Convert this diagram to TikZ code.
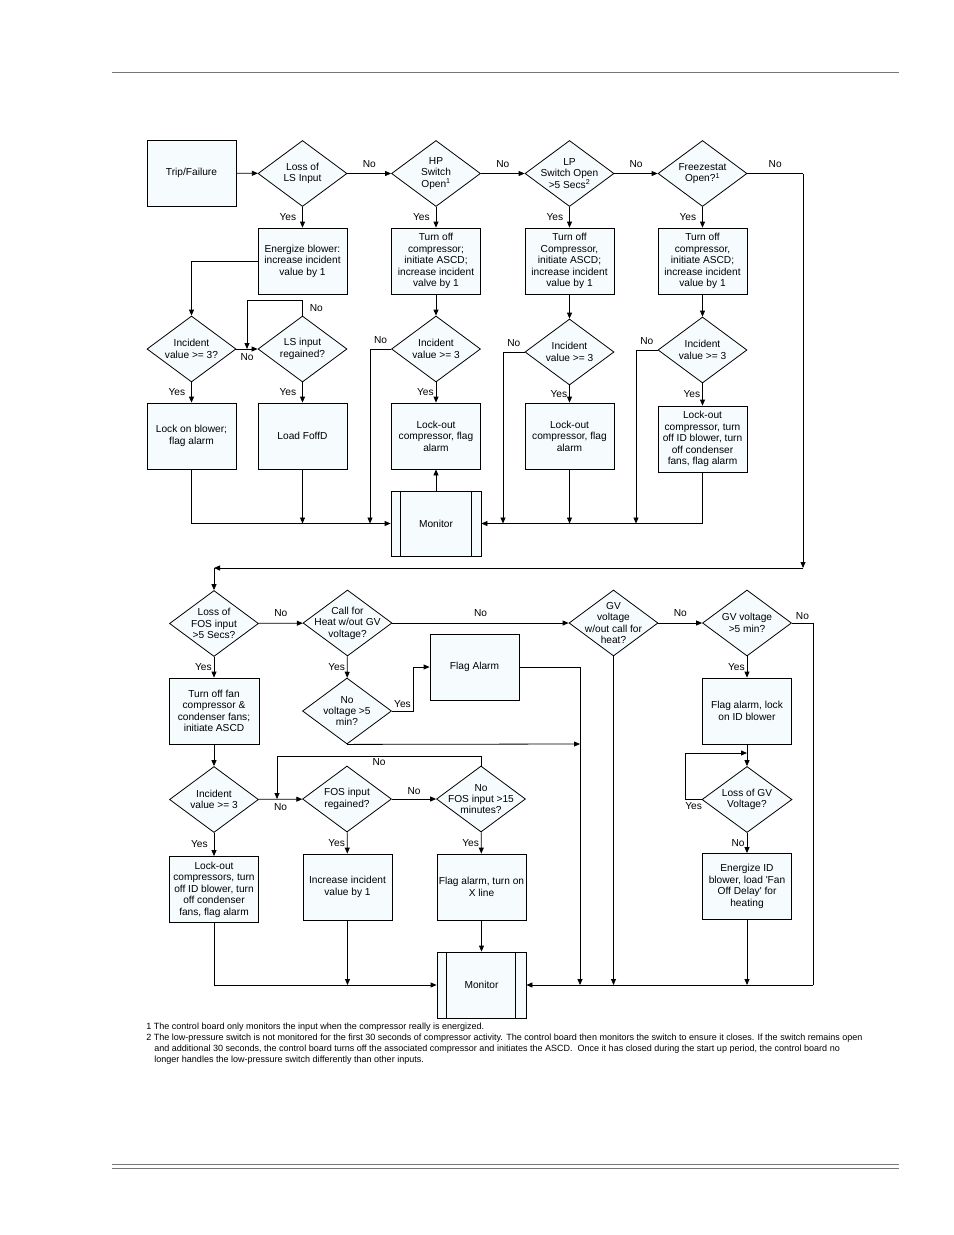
\documentclass[tikz,border=0pt]{standalone}
\usepackage{fontspec}
\setmainfont{Liberation Sans}[Ligatures=TeXOff]
\usetikzlibrary{shapes.geometric, arrows.meta}
\definecolor{boxfill}{HTML}{F6FBFD}
\definecolor{rulegray}{HTML}{777777}
\newcommand{\nodefont}{\fontsize{10.2}{11.5}\selectfont}
\newcommand{\notefont}{\fontsize{9.05}{10.7}\selectfont}

\begin{document}
\begin{tikzpicture}[x=1bp, y=-1bp, line width=0.8bp,
	box/.style={draw, fill=boxfill, minimum width=89bp, minimum height=66bp, inner sep=1bp, align=center, font=\nodefont},
	decision/.style={diamond, draw, fill=boxfill, minimum width=89bp, minimum height=66bp, inner sep=0pt},
	dtext/.style={label={[align=center, font=\nodefont, inner sep=0pt]center:#1}},
	lbl/.style={font=\nodefont, inner sep=1bp},
	arr/.style={-{Triangle[length=6bp, width=5bp]}}]
	\useasboundingbox (0,0) rectangle (954,1235);

	% page rules
	\draw[rulegray, line width=1bp] (112,72) -- (899,72);
	\draw[rulegray, line width=1bp] (112,1164) -- (899,1164) (112,1168) -- (899,1168);

	% upper half
	\node[box] (trip) at (191.5,173) {Trip/Failure};
	\node[decision, dtext={Loss of\\LS Input}] (lsloss) at (302.5,173.5) {};
	\node[decision, dtext={HP\\Switch\\Open\textsuperscript{1}}] (hpopen) at (436,173.5) {};
	\node[decision, dtext={LP\\Switch Open\\>5 Secs\textsuperscript{2}}] (lpopen) at (569.5,173.5) {};
	\node[decision, dtext={Freezestat\\Open?\textsuperscript{1}}] (frzopen) at (702.5,173.5) {};

	\node[box] (energize) at (302.5,261) {Energize blower:\\increase incident\\value by 1};
	\node[box] (hpoff) at (436,261) {Turn off\\compressor;\\initiate ASCD;\\increase incident\\valve by 1};
	\node[box] (lpoff) at (569.5,261) {Turn off\\Compressor,\\initiate ASCD;\\increase incident\\value by 1};
	\node[box] (frzoff) at (702.5,261) {Turn off\\compressor,\\initiate ASCD;\\increase incident\\value by 1};

	\node[decision, dtext={Incident\\value >= 3?}] (inc1) at (191.5,349) {};
	\node[decision, dtext={LS input\\regained?}] (lsregain) at (302.5,349) {};
	\node[decision, dtext={Incident\\value >= 3}] (hpinc) at (436,349) {};
	\node[decision, dtext={Incident\\value >= 3}] (lpinc) at (569.5,352) {};
	\node[decision, dtext={Incident\\value >= 3}] (frzinc) at (702.5,350) {};

	\node[box] (lockblow) at (191.5,436) {Lock on blower;\\flag alarm};
	\node[box] (loadfoff) at (302.5,436) {Load FoffD};
	\node[box] (hplock) at (436,436) {Lock-out\\compressor, flag\\alarm};
	\node[box] (lplock) at (569.5,436) {Lock-out\\compressor, flag\\alarm};
	\node[box] (frzlock) at (702.5,439) {Lock-out\\compressor, turn\\off ID blower, turn\\off condenser\\fans, flag alarm};

	\node[box, minimum width=90bp, minimum height=65bp] (montop) at (436,523.5) {Monitor};
	\draw ([xshift=10bp]montop.north west) -- ([xshift=10bp]montop.south west);
	\draw ([xshift=-10bp]montop.north east) -- ([xshift=-10bp]montop.south east);

	\coordinate (frzc) at (803,173.5);
	\coordinate (loopc) at (803,568);
	\coordinate (leftc) at (214,568);
	\coordinate (lsjoin) at (247,349);
	\coordinate (foffjoin) at (302.5,523.5);
	\coordinate (hpjoin) at (370,523.5);
	\coordinate (lpjoin) at (503,523.5);
	\coordinate (lplockj) at (569.5,523.5);
	\coordinate (frzjoin) at (636,523.5);

	\draw[arr] (trip) -- (lsloss);
	\draw[arr] (lsloss) -- node[lbl, above=5bp] {No} (hpopen);
	\draw[arr] (hpopen) -- node[lbl, above=5bp] {No} (lpopen);
	\draw[arr] (lpopen) -- node[lbl, above=5bp] {No} (frzopen);
	\draw (frzopen.east) -- node[lbl, above=5bp] {No} (frzc);
	\draw[arr] (frzc) -- (loopc);
	\draw[arr] (loopc) -- (leftc);

	\draw[arr] (lsloss) -- node[lbl, left=5bp] {Yes} (energize);
	\draw[arr] (hpopen) -- node[lbl, left=5bp] {Yes} (hpoff);
	\draw[arr] (lpopen) -- node[lbl, left=5bp] {Yes} (lpoff);
	\draw[arr] (frzopen) -- node[lbl, left=5bp] {Yes} (frzoff);

	\draw[arr] (energize.west) -| (inc1.north);
	\draw[arr] (hpoff) -- (hpinc);
	\draw[arr] (lpoff) -- (lpinc);
	\draw[arr] (frzoff) -- (frzinc);

	\draw[arr] (inc1) -- node[lbl, below=3bp] {No} (lsregain);
	\draw[arr] (lsregain.north) -- node[lbl, right=6bp] {No} ++(0,-15) -| (lsjoin);
	\draw[arr] (inc1) -- node[lbl, left=5bp] {Yes} (lockblow);
	\draw[arr] (lsregain) -- node[lbl, left=5bp] {Yes} (loadfoff);
	\draw[arr] (hpinc) -- node[lbl, left=1bp] {Yes} (hplock);
	\draw[arr] (lpinc) -- node[lbl, left=1bp] {Yes} (lplock);
	\draw[arr] (frzinc) -- node[lbl, left=1bp] {Yes} (frzlock);

	\draw[arr] (hpinc.west) -| node[lbl, pos=0.25, above=4bp] {No} (hpjoin);
	\draw[arr] (lpinc.west) -| node[lbl, pos=0.25, above=4bp] {No} (lpjoin);
	\draw[arr] (frzinc.west) -| node[lbl, pos=0.25, above=4bp] {No} (frzjoin);

	\draw[arr] (lockblow.south) |- (montop.west);
	\draw[arr] (loadfoff) -- (foffjoin);
	\draw[arr] (montop) -- (hplock);
	\draw[arr] (lplock) -- (lplockj);
	\draw[arr] (frzlock.south) |- (montop.east);

	% lower half
	\node[decision, dtext={Loss of\\FOS input\\>5 Secs?}] (fosloss) at (214,623.5) {};
	\node[decision, dtext={Call for\\Heat w/out GV\\voltage?}] (callheat) at (347.5,623) {};
	\node[decision, dtext={GV\\voltage\\w/out call for\\heat?}] (gvnocall) at (613.5,623) {};
	\node[decision, dtext={GV voltage\\>5 min?}] (gvlong) at (747,623) {};

	\node[box, minimum width=90bp] (fanoff) at (214,711) {Turn off fan\\compressor \&\\condenser fans;\\initiate ASCD};
	\node[decision, dtext={No\\voltage >5\\min?}] (novolt) at (347,711) {};
	\node[box] (flagalarm) at (474.5,667) {Flag Alarm};
	\node[box] (flaglock) at (747,711) {Flag alarm, lock\\on ID blower};

	\node[decision, dtext={Incident\\value >= 3}] (fosinc) at (214,799.5) {};
	\node[decision, dtext={FOS input\\regained?}] (fosregain) at (347,799) {};
	\node[decision, dtext={No\\FOS input >15\\minutes?}] (fos15) at (481,799) {};
	\node[decision, minimum width=90bp, dtext={Loss of GV\\Voltage?}] (gvloss) at (747,799.5) {};

	\node[box] (fosllock) at (214,889.5) {Lock-out\\compressors, turn\\off ID blower, turn\\off condenser\\fans, flag alarm};
	\node[box] (incone) at (347.5,887) {Increase incident\\value by 1};
	\node[box] (xline) at (481.5,887) {Flag alarm, turn on\\X line};
	\node[box] (energid) at (747,886.5) {Energize ID\\blower, load 'Fan\\Off Delay' for\\heating};

	\node[box] (monbot) at (481.5,985) {Monitor};
	\draw ([xshift=10bp]monbot.north west) -- ([xshift=10bp]monbot.south west);
	\draw ([xshift=-11bp]monbot.north east) -- ([xshift=-11bp]monbot.south east);

	\coordinate (gvc) at (813,623);
	\coordinate (gvd) at (813,985);
	\coordinate (yesbend) at (413,711);
	\coordinate (flagc) at (580,667);
	\coordinate (flagd) at (580,985);
	\coordinate (novoltj) at (580,744);
	\coordinate (gvnocj) at (613.5,985);
	\coordinate (fosloopc) at (481,756);
	\coordinate (fosjoin) at (277,799);
	\coordinate (incj) at (347.5,985);
	\coordinate (gvlj) at (747,753);
	\coordinate (energj) at (747,985);

	\draw[arr] (leftc) -- (fosloss.north);
	\draw[arr] (fosloss) -- node[lbl, above=5bp] {No} (callheat);
	\draw[arr] (callheat) -- node[lbl, above=5bp] {No} (gvnocall);
	\draw[arr] (gvnocall) -- node[lbl, above=5bp] {No} (gvlong);
	\draw (gvlong.east) -- node[lbl, above=2bp] {No} (gvc) -- (gvd);
	\draw[arr] (gvd) -- (monbot.east);

	\draw[arr] (fosloss) -- node[lbl, left=1bp] {Yes} (fanoff);
	\draw[arr] (callheat) -- node[lbl, left=1bp] {Yes} (novolt);
	\draw[arr] (gvlong) -- node[lbl, left=1bp] {Yes} (flaglock);
	\draw[arr] (novolt.east) -- node[lbl, above=2bp] {Yes} (yesbend) |- (flagalarm.west);
	\draw[arr] (flagalarm.east) -- (flagc) -- (flagd);
	\draw[arr] (novolt.south) -- (novoltj);
	\draw[arr] (gvnocall.south) -- (gvnocj);

	\draw[arr] (fanoff) -- (fosinc);
	\draw[arr] (fosinc) -- node[lbl, below=3bp] {No} (fosregain);
	\draw[arr] (fosregain) -- node[lbl, above=3bp] {No} (fos15);
	\draw[arr] (fos15.north) -- (fosloopc) -| node[lbl, pos=0.25, below=1bp] {No} (fosjoin);
	\draw[arr] (fosinc) -- node[lbl, left=5bp] {Yes} (fosllock);
	\draw[arr] (fosregain) -- node[lbl, left=1bp] {Yes} (incone);
	\draw[arr] (fos15) -- node[lbl, left=1bp] {Yes} (xline);
	\draw[arr] (xline) -- (monbot);
	\draw[arr] (incone) -- (incj);
	\draw[arr] (fosllock.south) |- (monbot.west);

	\draw[arr] (flaglock) -- (gvloss);
	\draw[arr] (gvloss.west) -- node[lbl, below=2bp] {Yes} ++(-16,0) |- (gvlj);
	\draw[arr] (gvloss) -- node[lbl, left=1bp] {No} (energid);
	\draw[arr] (energid) -- (energj);

	% footnotes
	\node[anchor=north west, inner sep=0pt, align=left, font=\notefont] (note1) at (146,1023) {1 The control board only monitors the input when the compressor really is energized.};
	\node[anchor=north west, inner sep=0pt, align=left, font=\notefont] (note2) at (146,1034) {2 The low-pressure switch is not monitored for the first 30 seconds of compressor activity. The control board then monitors the switch to ensure it closes. If the switch remains open\\
		\hspace*{8bp}and additional 30 seconds, the control board turns off the associated compressor and initiates the ASCD.\ \ Once it has closed during the start up period, the control board no\\
		\hspace*{8bp}longer handles the low-pressure switch differently than other inputs.};
\end{tikzpicture}
\end{document}
